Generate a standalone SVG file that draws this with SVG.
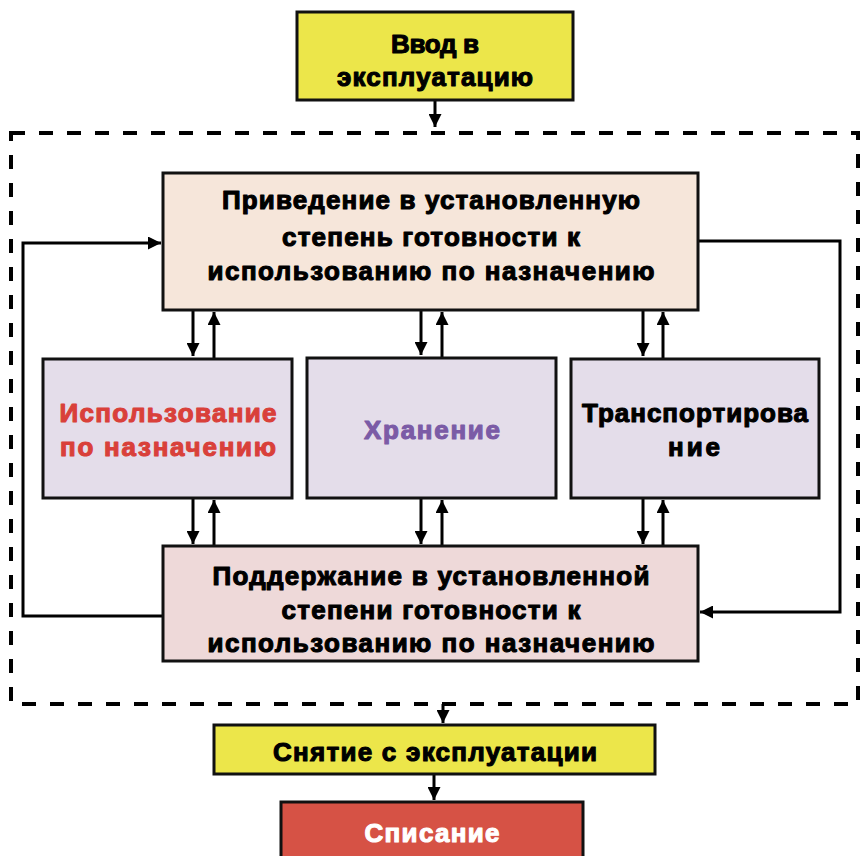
<svg xmlns="http://www.w3.org/2000/svg" width="861" height="856" viewBox="0 0 861 856">
<defs>
<marker id="ahs" viewBox="0 0 10 10" refX="10" refY="5" markerWidth="15" markerHeight="13" markerUnits="userSpaceOnUse" orient="auto">
<path d="M0,0 L10,5 L0,10 Z" fill="#000"/>
</marker>
</defs>
<style>
.box{stroke:#111;stroke-width:3}
.t{font-family:"Liberation Sans",Arial,sans-serif;font-weight:bold;font-size:26px;text-anchor:middle;stroke-width:1.1px;stroke-linejoin:round}
.k{fill:#000;stroke:#000}
.a{fill:none;stroke:#000;stroke-width:3;marker-end:url(#ahs)}
</style>
<rect width="861" height="856" fill="#fff"/>
<g id="frame">
<rect x="11" y="133" width="847" height="571" fill="none" stroke="#000" stroke-width="4" stroke-dasharray="14,14"/>
</g>
<g id="connectors">
<path class="a" d="M435,100 V127"/>
<path class="a" d="M193,310 V356"/>
<path class="a" d="M214,358 V312"/>
<path class="a" d="M421,310 V355"/>
<path class="a" d="M442,357 V312"/>
<path class="a" d="M643,310 V356"/>
<path class="a" d="M663,358 V312"/>
<path class="a" d="M193,498 V544"/>
<path class="a" d="M214,546 V500"/>
<path class="a" d="M421,498 V544"/>
<path class="a" d="M442,546 V500"/>
<path class="a" d="M643,498 V544"/>
<path class="a" d="M663,546 V500"/>
<path class="a" d="M163,616 H23 V243 H161"/>
<path class="a" d="M698,241 H840 V612 H700"/>
<path class="a" d="M443,704 V723"/>
<path class="a" d="M434,774 V800"/>
</g>
<g id="n-vvod">
<rect class="box" x="297" y="12" width="276" height="88" fill="#ECE64A"/>
<text class="t k" x="435" y="53" textLength="88" lengthAdjust="spacing">Ввод в</text>
<text class="t k" x="435" y="86" textLength="196" lengthAdjust="spacing">эксплуатацию</text>
</g>
<g id="n-privedenie">
<rect class="box" x="163" y="173" width="535" height="137" fill="#F6E6DA"/>
<text class="t k" x="431" y="209" textLength="418" lengthAdjust="spacing">Приведение в установленную</text>
<text class="t k" x="431" y="246" textLength="298" lengthAdjust="spacing">степень готовности к</text>
<text class="t k" x="431" y="280" textLength="447" lengthAdjust="spacing">использованию по назначению</text>
</g>
<g id="n-ispolzovanie">
<rect class="box" x="43" y="359" width="249" height="139" fill="#E4DDEA"/>
<text class="t" x="168" y="422" fill="#D9403A" stroke="#D9403A" textLength="217" lengthAdjust="spacing">Использование</text>
<text class="t" x="168" y="456" fill="#D9403A" stroke="#D9403A" textLength="216" lengthAdjust="spacing">по назначению</text>
</g>
<g id="n-hranenie">
<rect class="box" x="307" y="358" width="249" height="140" fill="#E4DDEA"/>
<text class="t" x="432" y="439" fill="#7B5BA6" stroke="#7B5BA6" textLength="136" lengthAdjust="spacing">Хранение</text>
</g>
<g id="n-transport">
<rect class="box" x="571" y="359" width="248" height="139" fill="#E4DDEA"/>
<text class="t k" x="695" y="422" textLength="226" lengthAdjust="spacing">Транспортирова</text>
<text class="t k" x="694" y="456" textLength="52" lengthAdjust="spacing">ние</text>
</g>
<g id="n-podderzhanie">
<rect class="box" x="163" y="546" width="535" height="115" fill="#EED9D9"/>
<text class="t k" x="431" y="585" textLength="437" lengthAdjust="spacing">Поддержание в установленной</text>
<text class="t k" x="431" y="619" textLength="299" lengthAdjust="spacing">степени готовности к</text>
<text class="t k" x="431" y="652" textLength="447" lengthAdjust="spacing">использованию по назначению</text>
</g>
<g id="n-snyatie">
<rect class="box" x="214" y="725" width="441" height="49" fill="#ECE64A"/>
<text class="t k" x="435" y="761" textLength="324" lengthAdjust="spacing">Снятие с эксплуатации</text>
</g>
<g id="n-spisanie">
<rect class="box" x="281" y="802" width="302" height="70" fill="#D65245"/>
<text class="t" x="432" y="842" fill="#fff" stroke="#fff" textLength="135" lengthAdjust="spacing">Списание</text>
</g>
</svg>
